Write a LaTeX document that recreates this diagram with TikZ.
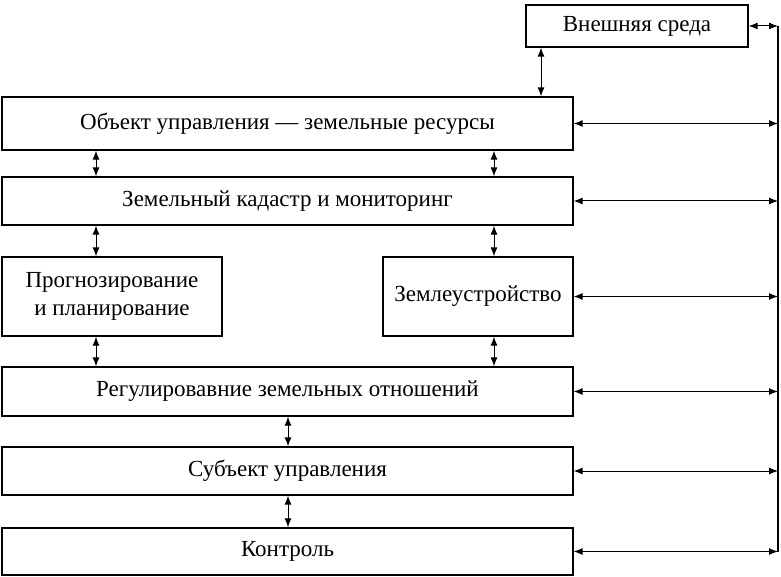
\documentclass[tikz,border=0pt]{standalone}
\usepackage{fontspec}
\setmainfont{Liberation Serif}
\usetikzlibrary{arrows.meta}
\begin{document}
\begin{tikzpicture}[x=1pt,y=-1pt,
  box/.style={draw,line width=1.3pt,inner sep=0pt,font=\fontsize{23}{28}\selectfont,align=center},
  arr/.style={{Latex[length=9pt,width=7pt]}-{Latex[length=9pt,width=7pt]},line width=1pt}]
\useasboundingbox (0,0) rectangle (781,577);
\node[box,minimum width=222,minimum height=42] (env) at (637,26) {Внешняя среда};
\node[box,minimum width=571,minimum height=53] (obj) at (287.5,123.5) {Объект управления — земельные ресурсы};
\node[box,minimum width=571,minimum height=48] (kad) at (287.5,201) {Земельный кадастр и мониторинг};
\node[box,minimum width=220,minimum height=79] (prog) at (112,296.5) {Прогнозирование\\и планирование};
\node[box,minimum width=190,minimum height=79] (zem) at (478,296.5) {Землеустройство};
\node[box,minimum width=571,minimum height=49] (reg) at (287.5,391.5) {Регулировавние земельных отношений};
\node[box,minimum width=571,minimum height=48] (sub) at (287.5,471) {Субъект управления};
\node[box,minimum width=571,minimum height=47] (kon) at (287.5,551.5) {Контроль};
\coordinate (top) at (778,26);
\coordinate (bot) at (778,551.5);
\draw[line width=1.3pt] (top) -- (bot);
\draw[arr] (env.east) -- (top);
\foreach \n in {obj,kad,zem,reg,sub,kon}{
  \draw[arr] (\n.east) -- (\n.east -| top);
}
\draw[arr] (env.south -| 541,0) -- (obj.north -| 541,0);
\draw[arr] (obj.south -| 96,0) -- (kad.north -| 96,0);
\draw[arr] (obj.south -| 494,0) -- (kad.north -| 494,0);
\draw[arr] (kad.south -| 96,0) -- (prog.north -| 96,0);
\draw[arr] (kad.south -| 494,0) -- (zem.north -| 494,0);
\draw[arr] (prog.south -| 96,0) -- (reg.north -| 96,0);
\draw[arr] (zem.south -| 494,0) -- (reg.north -| 494,0);
\draw[arr] (reg.south -| 288,0) -- (sub.north -| 288,0);
\draw[arr] (sub.south -| 288,0) -- (kon.north -| 288,0);
\end{tikzpicture}
\end{document}
